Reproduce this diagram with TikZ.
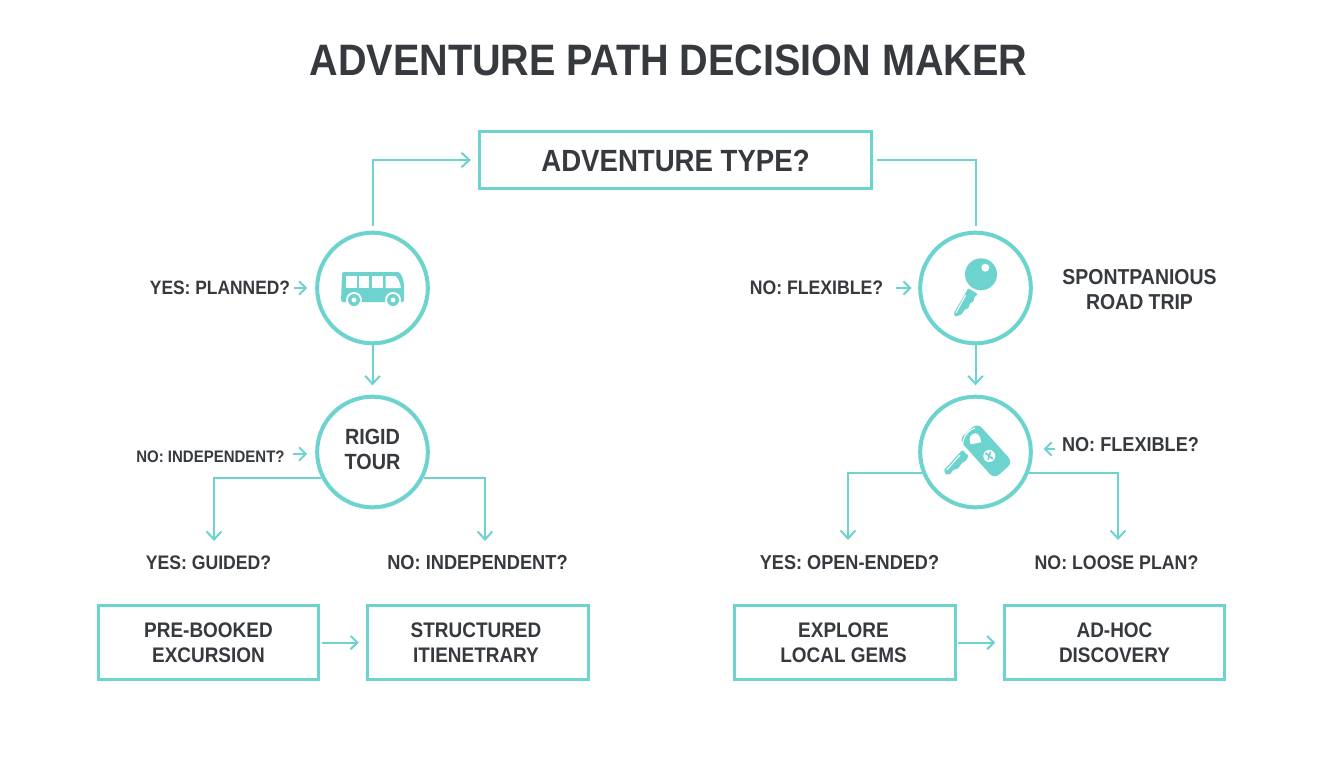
\documentclass[tikz,border=0pt]{standalone}
\usepackage{fontspec}
\setmainfont{Liberation Sans}[FakeStretch=0.9]
\usetikzlibrary{arrows.meta,calc}
\definecolor{teal1}{HTML}{6DD3CE}
\definecolor{ink}{HTML}{363A3F}
\tikzset{
  x=0.75pt,y=-0.75pt,
  txt/.style={text=ink,inner sep=0pt,outer sep=0pt,align=center,font=\bfseries\fontsize{#1}{18.75pt}\selectfont},
  round/.style={draw=teal1,line width=3pt,circle,minimum size=83pt,inner sep=0pt,outer sep=1.5pt,fill=white},
  boxn/.style={draw=teal1,line width=2.4pt,minimum width=165.5pt,minimum height=56pt,inner sep=0pt,outer sep=1.2pt,fill=white},
  conn/.style={draw=teal1,line width=1.5pt},
  arr/.style={conn,-{Straight Barb[length=6pt,width=11pt,line width=1.5pt]}},
  icon/.style={fill=teal1,draw=none},
  hole/.style={fill=white,draw=none}
}
\begin{document}
\begin{tikzpicture}
\useasboundingbox[fill=white] (0,0) rectangle (1344,768);
\node[txt=33pt] (title) at (668.5,60) {ADVENTURE PATH DECISION MAKER};
\node[boxn,minimum width=293.5pt,minimum height=43pt] (top) at (675.5,160) {};
\node[txt=23pt] at (675.5,161) (toplab) {ADVENTURE TYPE?};
% circles
\node[round] (bus) at (372.5,288) {};
\node[round] (rigid) at (372.5,452) {};
\node[txt=16.5pt] (rigidl) at (372.5,449) {RIGID\\TOUR};
\node[round] (key) at (975.5,288) {};
\node[round] (fob) at (975.5,452) {};
% boxes
\node[boxn] (b1) at (208.5,642.5) {};
\node[boxn] (b2) at (478,642.5) {};
\node[boxn] (b3) at (845,642.5) {};
\node[boxn] (b4) at (1114.5,642.5) {};
\node[txt=15.8pt] at (208.5,642.5) (b1l) {PRE-BOOKED\\EXCURSION};
\node[txt=15.8pt] at (476,642.5) (b2l) {STRUCTURED\\ITIENETRARY};
\node[txt=15.8pt] at (843.5,642.5) (b3l) {EXPLORE\\LOCAL GEMS};
\node[txt=15.8pt] at (1114.5,642.5) (b4l) {AD-HOC\\DISCOVERY};
% labels
\node[txt=14.5pt] (l1) at (220,288) {YES: PLANNED?};
\node[txt=12.5pt] (l2) at (210.5,457) {NO: INDEPENDENT?};
\node[txt=14.7pt] (l3) at (208.5,563) {YES: GUIDED?};
\node[txt=15.2pt] (l4) at (477.5,563) {NO: INDEPENDENT?};
\node[txt=14.7pt] (l5) at (816.5,288) {NO: FLEXIBLE?};
\node[txt=16.2pt] (l6) at (1139.5,289.5) {SPONTPANIOUS\\ROAD TRIP};
\node[txt=15.1pt] (l7) at (1130.5,445) {NO: FLEXIBLE?};
\node[txt=15.1pt] (l8) at (849.5,563) {YES: OPEN-ENDED?};
\node[txt=14.8pt] (l9) at (1116.5,563) {NO: LOOSE PLAN?};
% free ends
\coordinate (e1) at (214,541);
\coordinate (e2) at (485,541);
\coordinate (e3) at (848,540);
\coordinate (e4) at (1118,540);
% connectors
\draw[arr,shorten <=3.5pt,shorten >=5.5pt] (bus.north) |- (top.west);
\draw[conn,shorten <=3.5pt,shorten >=3.5pt] (top.east) -| (key.north);
\draw[arr,shorten >=7pt] (bus.south) -- (rigid.north);
\draw[arr,shorten >=7pt] (key.south) -- (fob.north);
\draw[arr] (rigid.207) -| (e1);
\draw[arr] (rigid.333) -| (e2);
\draw[arr] (fob.201) -| (e3);
\draw[arr] (fob.339) -| (e4);
\begin{scope}[every path/.append style={-{Straight Barb[length=5pt,width=10pt,line width=1.5pt]}}]
\draw[conn,shorten <=3pt,shorten >=6pt] (l1.east) -- (bus.west);
\draw[conn,shorten <=6pt,shorten >=6pt] ($(l2.east)+(0,-3)$) -- ($(rigid.west)+(0,2)$);
\draw[conn,shorten <=10pt,shorten >=5pt] (l5.east) -- (key.west);
\draw[conn,shorten <=5pt,shorten >=8pt] ($(l7.west)+(0,4)$) -- ($(fob.east)+(0,-3)$);
\draw[conn,shorten <=1pt,shorten >=5.5pt] (b1.east) -- (b2.west);
\draw[conn,shorten <=1pt,shorten >=5.5pt] (b3.east) -- (b4.west);
\end{scope}
% bus icon
\fill[icon,rounded corners=1.5pt] (342,275) .. controls (342,272) and (345,272) .. (347,272) -- (396,272) .. controls (401,272) and (404,280) .. (404,288) -- (404,302) -- (341,302) -- cycle;
\fill[hole] (346,276) rectangle (357,288);
\fill[hole] (359,276) rectangle (369,288);
\fill[hole] (371.5,276) rectangle (383,288);
\fill[hole] (385.5,276) -- (395,276) .. controls (398,278) and (400,282) .. (401,288) -- (385.5,288) -- cycle;
\foreach \cx in {354,393}{
  \fill[hole] (\cx,300) circle[radius=8];
  \fill[icon] (\cx,300) circle[radius=6];
  \fill[hole] (\cx,300) circle[radius=2.4];
}
% key icon
\fill[icon] (981,274.3) circle[radius=16];
\fill[hole] (985.3,267.7) circle[radius=4];
\fill[icon,rounded corners=0.6pt] (968.3,288.3) -- (954,312.7) -- (955,316.7) -- (961.7,314.3) -- (965,309.3) -- (968.3,308.3) -- (970,303.3) -- (973.3,301.7) -- (974.3,297.3) -- (977.7,294) -- cycle;
\draw[white,line width=0.8pt] (965.7,295) -- (956,312.7);
% fob icon
\begin{scope}[shift={(985.5,450.5)},rotate=-48]
\fill[icon,rounded corners=5pt] (-26,-12.5) rectangle (27,12.5);
\end{scope}
\draw[white,line width=0.9pt] (963,450) .. controls (961,440) and (966,431) .. (975,428);
\fill[hole] (970.7,444.3) .. controls (968,438) and (971,433.5) .. (975.7,433.3) .. controls (979,434) and (981,438) .. (981,442.3) -- cycle;
\fill[hole] (989.3,456) circle[radius=6];
\draw[teal1,line width=1.4pt] (985.5,453) -- (993,459);
\draw[teal1,line width=1.2pt] (990.5,451.5) -- (988,460);
\fill[icon,rounded corners=.6pt] (962.3,450) -- (968.3,455.7) -- (966.7,460) -- (961.7,463.3) -- (958.3,468.3) -- (953.3,470) -- (950,474.3) -- (945.7,474.3) -- (944,470) -- cycle;
\draw[white,line width=0.8pt] (960,455) -- (946.7,470);
\end{tikzpicture}
\end{document}
